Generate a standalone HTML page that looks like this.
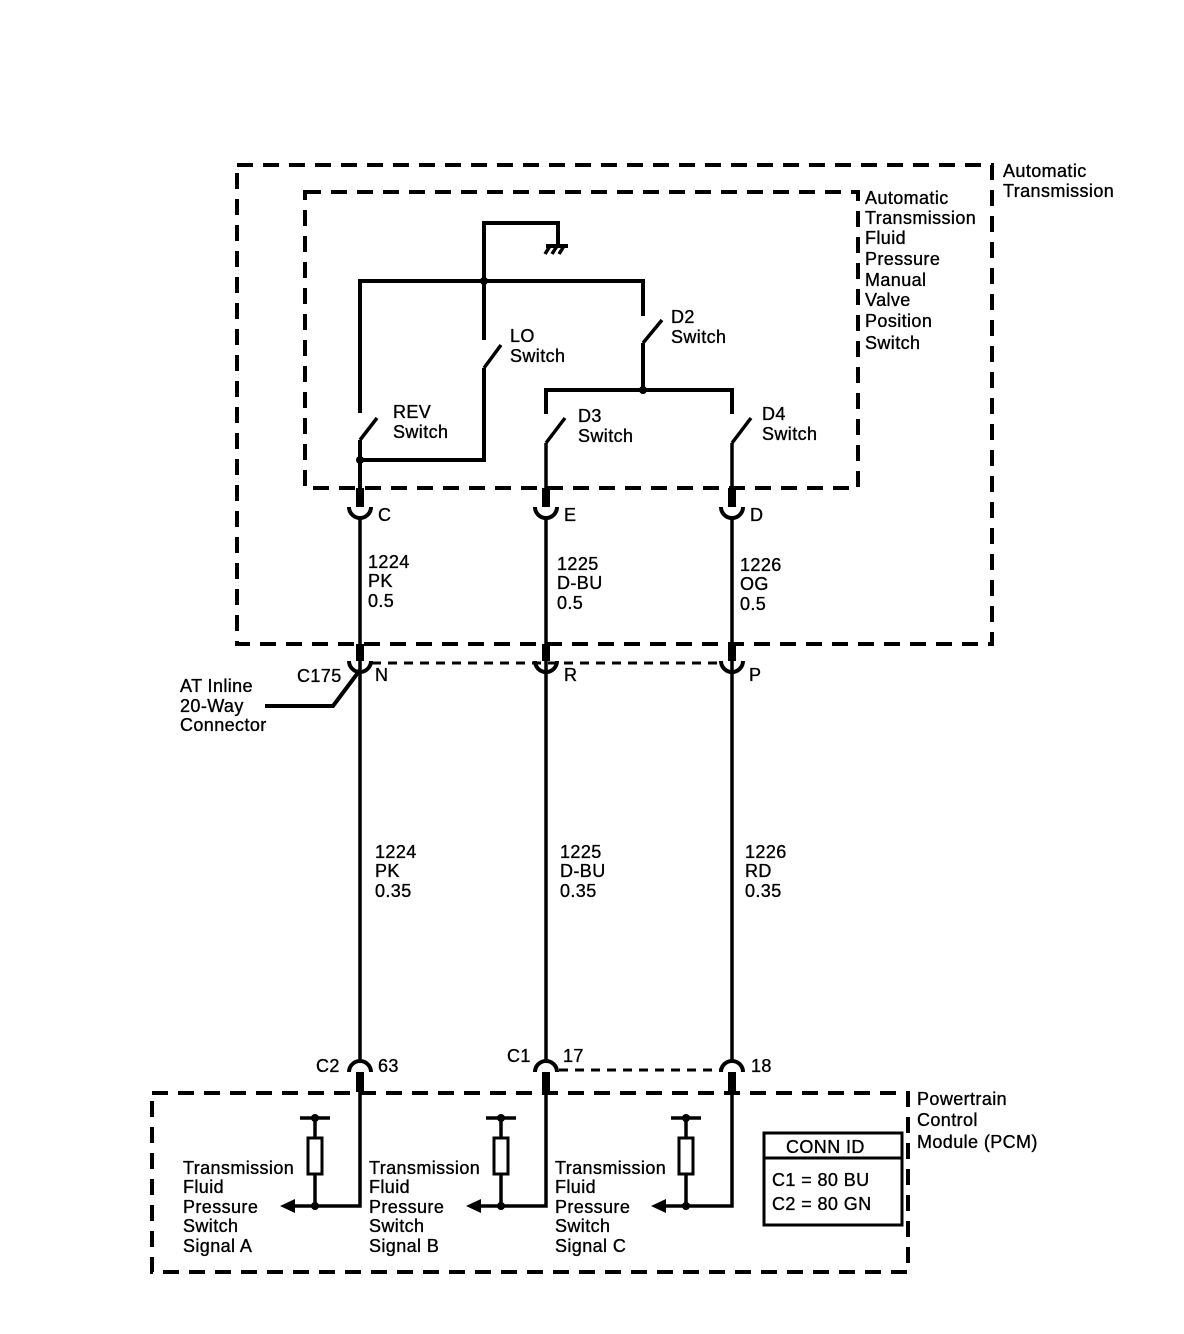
<!DOCTYPE html>
<html><head><meta charset="utf-8"><style>
html,body{margin:0;padding:0;background:#fff;}
svg{display:block;}
text{font-family:"Liberation Sans",Arial,sans-serif;font-size:18px;letter-spacing:0.4px;fill:#000;stroke:#000;stroke-width:0.35px;}
</style></head><body>
<svg width="1184" height="1334" viewBox="0 0 1184 1334" xmlns="http://www.w3.org/2000/svg">
<g fill="none" stroke="#000">
<rect x="237" y="165" width="755" height="479" stroke-width="4" stroke-dasharray="16,10"/>
<rect x="305" y="192" width="553" height="296" stroke-width="4" stroke-dasharray="16,10"/>
<rect x="152" y="1093" width="756" height="179" stroke-width="4" stroke-dasharray="16,10"/>
<polyline points="484,281 484,223 558,223 558,246" stroke-width="4"/>
<line x1="546" y1="246" x2="568" y2="246" stroke-width="4"/>
<line x1="550" y1="246" x2="545" y2="254" stroke-width="3.5"/>
<line x1="557" y1="246" x2="552" y2="254" stroke-width="3.5"/>
<line x1="564" y1="246" x2="559" y2="254" stroke-width="3.5"/>
<polyline points="360,413 360,281 643,281 643,316" stroke-width="4"/>
<line x1="484" y1="281" x2="484" y2="340" stroke-width="4"/>
<line x1="484" y1="368" x2="501" y2="345" stroke-width="3.5"/>
<polyline points="484,368 484,460 360,460" stroke-width="4"/>
<line x1="360" y1="440" x2="377" y2="418" stroke-width="3.5"/>
<line x1="360" y1="440" x2="360" y2="490" stroke-width="4"/>
<line x1="643" y1="343" x2="662" y2="320" stroke-width="3.5"/>
<line x1="643" y1="343" x2="643" y2="390" stroke-width="4"/>
<polyline points="546,414 546,390 732,390 732,414" stroke-width="4"/>
<line x1="546" y1="443" x2="565" y2="418" stroke-width="3.5"/>
<line x1="546" y1="443" x2="546" y2="490" stroke-width="3.5"/>
<line x1="732" y1="443" x2="751" y2="418" stroke-width="3.5"/>
<line x1="732" y1="443" x2="732" y2="490" stroke-width="3.5"/>
<line x1="372" y1="663" x2="720" y2="663" stroke-width="3" stroke-dasharray="9,7"/>
<line x1="559" y1="1070" x2="720" y2="1070" stroke-width="3" stroke-dasharray="9,7"/>
<line x1="360" y1="518" x2="360" y2="1060" stroke-width="3.5"/>
<line x1="546" y1="518" x2="546" y2="1060" stroke-width="3.5"/>
<line x1="732" y1="518" x2="732" y2="1060" stroke-width="3.5"/>
<path d="M349,507 A11,11 0 0 0 371,507" stroke-width="4"/>
<path d="M535,507 A11,11 0 0 0 557,507" stroke-width="4"/>
<path d="M721,507 A11,11 0 0 0 743,507" stroke-width="4"/>
<path d="M349,661 A11,11 0 0 0 371,661" stroke-width="4"/>
<path d="M535,661 A11,11 0 0 0 557,661" stroke-width="4"/>
<path d="M721,661 A11,11 0 0 0 743,661" stroke-width="4"/>
<path d="M349,1072 A11,11 0 0 1 371,1072" stroke-width="4"/>
<path d="M535,1072 A11,11 0 0 1 557,1072" stroke-width="4"/>
<path d="M721,1072 A11,11 0 0 1 743,1072" stroke-width="4"/>
<polyline points="265,706 333,706 360,670" stroke-width="4"/>
<polyline points="360,1090 360,1206 290,1206" stroke-width="3.5"/>
<polyline points="546,1090 546,1206 476,1206" stroke-width="3.5"/>
<polyline points="732,1090 732,1206 661,1206" stroke-width="3.5"/>
<line x1="300" y1="1118" x2="330" y2="1118" stroke-width="3.5"/>
<line x1="486" y1="1118" x2="516" y2="1118" stroke-width="3.5"/>
<line x1="671" y1="1118" x2="701" y2="1118" stroke-width="3.5"/>
<line x1="315" y1="1118" x2="315" y2="1206" stroke-width="3.5"/>
<line x1="501" y1="1118" x2="501" y2="1206" stroke-width="3.5"/>
<line x1="686" y1="1118" x2="686" y2="1206" stroke-width="3.5"/>
<rect x="308" y="1138" width="14" height="36" fill="#fff" stroke-width="3"/>
<rect x="494" y="1138" width="14" height="36" fill="#fff" stroke-width="3"/>
<rect x="679" y="1138" width="14" height="36" fill="#fff" stroke-width="3"/>
<rect x="764" y="1133" width="138" height="92" stroke-width="3"/>
<line x1="764" y1="1158" x2="902" y2="1158" stroke-width="3"/>
</g>
<g fill="#000">
<rect x="356" y="488" width="8" height="19"/><rect x="542" y="488" width="8" height="19"/><rect x="728" y="488" width="8" height="19"/>
<rect x="356" y="644" width="8" height="17"/><rect x="542" y="644" width="8" height="17"/><rect x="728" y="644" width="8" height="17"/>
<rect x="356" y="1072" width="8" height="20"/><rect x="542" y="1072" width="8" height="20"/><rect x="728" y="1072" width="8" height="20"/>
<circle cx="484" cy="281" r="4"/><circle cx="360" cy="460" r="4"/><circle cx="643" cy="390" r="4"/>
<circle cx="315" cy="1118" r="4"/><circle cx="501" cy="1118" r="4"/><circle cx="686" cy="1118" r="4"/>
<circle cx="315" cy="1206" r="4"/><circle cx="501" cy="1206" r="4"/><circle cx="686" cy="1206" r="4"/>
<polygon points="280,1206 295,1199 295,1213"/>
<polygon points="466,1206 481,1199 481,1213"/>
<polygon points="651,1206 666,1199 666,1213"/>
</g>
<text x="1003" y="177">Automatic</text><text x="1003" y="197">Transmission</text>
<text x="865" y="204">Automatic</text><text x="865" y="224">Transmission</text><text x="865" y="244">Fluid</text><text x="865" y="265">Pressure</text><text x="865" y="286">Manual</text><text x="865" y="306">Valve</text><text x="865" y="327">Position</text><text x="865" y="349">Switch</text>
<text x="510" y="342">LO</text><text x="510" y="362">Switch</text>
<text x="671" y="323">D2</text><text x="671" y="343">Switch</text>
<text x="393" y="418">REV</text><text x="393" y="438">Switch</text>
<text x="578" y="422">D3</text><text x="578" y="442">Switch</text>
<text x="762" y="420">D4</text><text x="762" y="440">Switch</text>
<text x="378" y="521">C</text><text x="564" y="521">E</text><text x="750" y="521">D</text>
<text x="368" y="568">1224</text><text x="368" y="587">PK</text><text x="368" y="607">0.5</text>
<text x="557" y="570">1225</text><text x="557" y="589">D-BU</text><text x="557" y="609">0.5</text>
<text x="740" y="571">1226</text><text x="740" y="590">OG</text><text x="740" y="610">0.5</text>
<text x="297" y="682">C175</text><text x="375" y="681">N</text><text x="564" y="681">R</text><text x="749" y="681">P</text>
<text x="180" y="692">AT Inline</text><text x="180" y="712">20-Way</text><text x="180" y="731">Connector</text>
<text x="375" y="858">1224</text><text x="375" y="877">PK</text><text x="375" y="897">0.35</text>
<text x="560" y="858">1225</text><text x="560" y="877">D-BU</text><text x="560" y="897">0.35</text>
<text x="745" y="858">1226</text><text x="745" y="877">RD</text><text x="745" y="897">0.35</text>
<text x="316" y="1072">C2</text><text x="378" y="1072">63</text>
<text x="507" y="1062">C1</text><text x="563" y="1062">17</text><text x="751" y="1072">18</text>
<text x="917" y="1105">Powertrain</text><text x="917" y="1126">Control</text><text x="917" y="1148">Module (PCM)</text>
<text x="786" y="1153">CONN ID</text>
<text x="772" y="1186">C1 = 80 BU</text><text x="772" y="1210">C2 = 80 GN</text>
<text x="183" y="1174">Transmission</text><text x="183" y="1193">Fluid</text><text x="183" y="1213">Pressure</text><text x="183" y="1232">Switch</text><text x="183" y="1252">Signal A</text>
<text x="369" y="1174">Transmission</text><text x="369" y="1193">Fluid</text><text x="369" y="1213">Pressure</text><text x="369" y="1232">Switch</text><text x="369" y="1252">Signal B</text>
<text x="555" y="1174">Transmission</text><text x="555" y="1193">Fluid</text><text x="555" y="1213">Pressure</text><text x="555" y="1232">Switch</text><text x="555" y="1252">Signal C</text>
</svg>
</body></html>
